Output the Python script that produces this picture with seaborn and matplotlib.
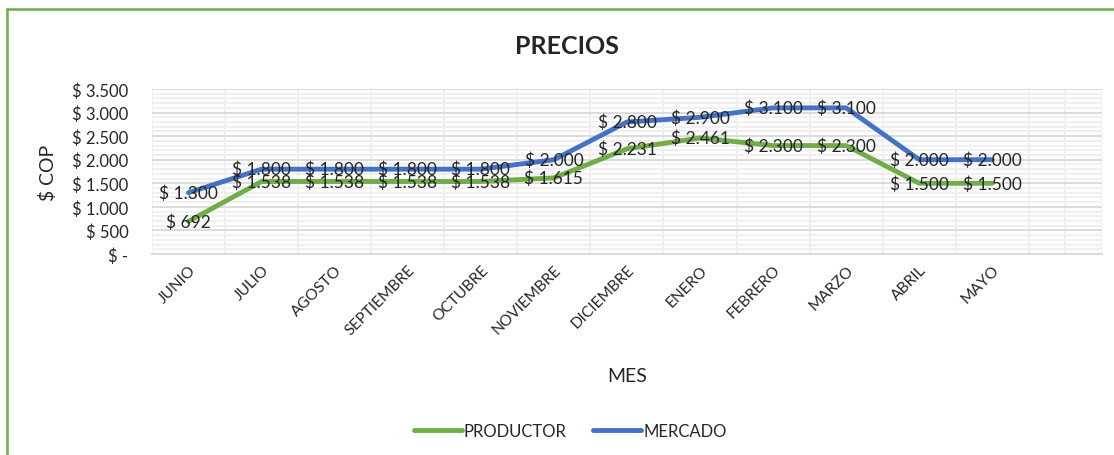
import matplotlib
matplotlib.use("Agg")
import matplotlib.pyplot as plt
from matplotlib.lines import Line2D
from matplotlib.ticker import MultipleLocator, FuncFormatter
import seaborn as sns
import pandas as pd

meses = ["JUNIO", "JULIO", "AGOSTO", "SEPTIEMBRE", "OCTUBRE", "NOVIEMBRE",
         "DICIEMBRE", "ENERO", "FEBRERO", "MARZO", "ABRIL", "MAYO"]
productor = [692, 1538, 1538, 1538, 1538, 1615, 2231, 2461, 2300, 2300, 1500, 1500]
mercado = [1300, 1800, 1800, 1800, 1800, 2000, 2800, 2900, 3100, 3100, 2000, 2000]
series = ["PRODUCTOR", "MERCADO"]
colores = {"PRODUCTOR": "#70AD47", "MERCADO": "#4472C4"}

sns.set_theme(style="white")
plt.rcParams["font.family"] = ["Lato", "DejaVu Sans"]

df = pd.DataFrame({
    "MES": meses * 2,
    "pos": list(range(len(meses))) * 2,
    "valor": productor + mercado,
    "serie": [series[0]] * len(meses) + [series[1]] * len(meses),
})

fig = plt.figure(figsize=(11.14, 4.56), dpi=100)
ax = fig.add_axes([0.1364, 0.4408, 0.8528, 0.3618])

sns.lineplot(data=df, x="pos", y="valor", hue="serie", palette=colores,
             linewidth=3.5, ax=ax, legend=False, sort=False,
             solid_capstyle="round", solid_joinstyle="round")

def pesos(v):
    v = int(round(v))
    if v == 0:
        return "$ -"
    return "$ " + f"{v:,}".replace(",", ".")

# data labels centred on each point
for vals in (mercado, productor):
    for i, v in enumerate(vals):
        ax.text(i, v, pesos(v), ha="center", va="center", fontsize=12.5,
                color="#262626", zorder=5)

ax.set_xlim(-0.5, len(meses) + 0.5)
ax.set_ylim(0, 3500)
ax.set_xticks(range(len(meses)))
ax.set_xticklabels(meses, rotation=45, ha="right", rotation_mode="anchor",
                   fontsize=11.2, color="#262626")
ax.tick_params(axis="x", pad=6, length=0)
ax.tick_params(axis="y", length=0, pad=17)
ax.yaxis.set_major_locator(MultipleLocator(500))
ax.yaxis.set_minor_locator(MultipleLocator(100))
ax.yaxis.set_major_formatter(FuncFormatter(lambda v, p: pesos(v)))
for lab in ax.get_yticklabels():
    lab.set_fontsize(12)
    lab.set_color("#262626")

# horizontal and vertical grid
ax.xaxis.set_minor_locator(MultipleLocator(0.5))
ax.grid(which="major", axis="y", color="#D9D9D9", linewidth=1.3)
ax.grid(which="minor", axis="y", color="#EFEFEF", linewidth=1.3)
ax.grid(which="minor", axis="x", color="#EFEFEF", linewidth=1.3)
ax.set_axisbelow(True)
for s in ("top", "right", "left"):
    ax.spines[s].set_visible(False)
ax.spines["bottom"].set_color("#D9D9D9")
ax.spines["bottom"].set_linewidth(1.3)

ax.set_xlabel("MES", fontsize=14, color="#262626", labelpad=0)
ax.xaxis.set_label_coords((627 - 152) / 950, -(368 - 255) / 165)
ax.set_ylabel("$ COP", fontsize=14, color="#262626")
ax.yaxis.set_label_coords(-(152 - 57) / 950, 0.5)

fig.text(567 / 1114, 1 - 46 / 456, "PRECIOS", ha="center", va="center",
         fontsize=18, fontweight="bold", color="#262626")

handles = [Line2D([0], [0], color=colores[s], linewidth=3.5,
                  solid_capstyle="round") for s in series]
fig.legend(handles, series, loc="center", bbox_to_anchor=(570 / 1114, 1 - 432 / 456),
           ncol=2, frameon=False, fontsize=12, handlelength=2.9,
           handletextpad=0.1, columnspacing=1.6)

# outer frame on the left and top
fig.add_artist(Line2D([7 / 1114, 7 / 1114], [0, 1 - 10 / 456], color="#70AD47",
                      linewidth=1.8, transform=fig.transFigure))
fig.add_artist(Line2D([7 / 1114, 1], [1 - 10 / 456, 1 - 10 / 456], color="#70AD47",
                      linewidth=1.8, transform=fig.transFigure))

fig.savefig("out.png", dpi=100, facecolor="white")
